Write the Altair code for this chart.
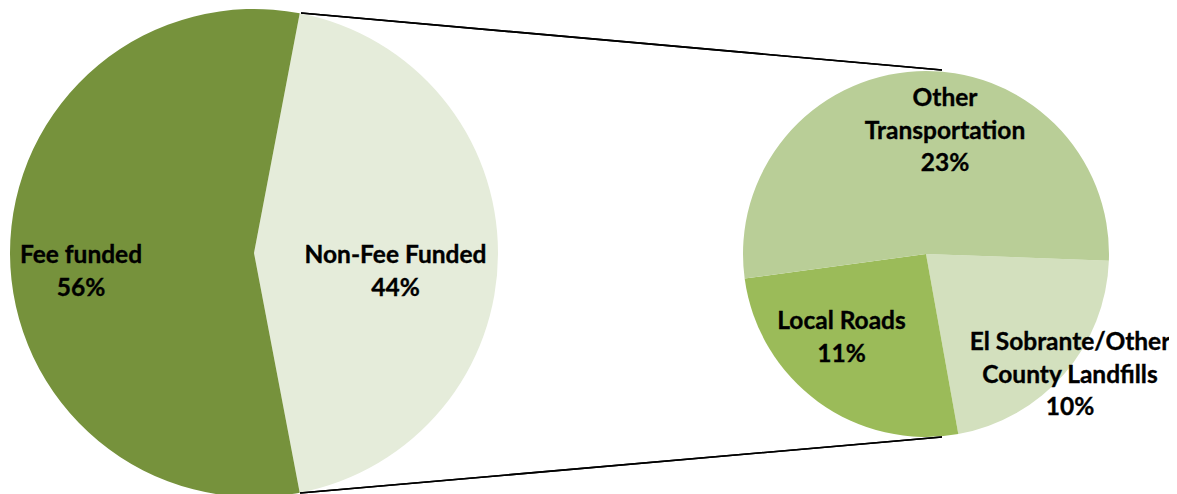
import math
import altair as alt
import pandas as pd

# ---- data ----
left_categories = ["Non-Fee Funded", "Fee funded"]
left_values = [44, 56]
left_labels = ["Non-Fee Funded\n44%", "Fee funded\n56%"]

right_categories = ["El Sobrante/Other County Landfills", "Local Roads", "Other Transportation"]
right_values = [9.5, 11.3, 23.2]
right_labels = ["El Sobrante/Other\nCounty Landfills\n10%", "Local Roads\n11%", "Other\nTransportation\n23%"]

all_categories = left_categories + right_categories
colors = ["#E5ECDA", "#76923C", "#D3E0BE", "#9BBB59", "#B9CE97"]

left_df = pd.DataFrame({"category": left_categories, "value": left_values,
                        "label": left_labels, "order": range(len(left_categories))})
right_df = pd.DataFrame({"category": right_categories, "value": right_values,
                         "label": right_labels, "order": range(len(right_categories))})

W, H = 1161, 486
FONT = "Lato"
FS = 24.5

color_scale = alt.Scale(domain=all_categories, range=colors)


def deg(a):
    return a * math.pi / 180


def pie(df, cx, cy, r, start_deg):
    return alt.Chart(df).mark_arc(stroke=None).encode(
        theta=alt.Theta("value:Q", stack=True,
                        scale=alt.Scale(range=[deg(start_deg), deg(start_deg + 360)])),
        order=alt.Order("order:Q"),
        color=alt.Color("category:N", scale=color_scale, legend=None),
        x=alt.value(cx), y=alt.value(cy), radius=alt.value(r),
    )


def label(df, cat, x, y):
    return alt.Chart(df).transform_filter(
        alt.datum.category == cat
    ).mark_text(font=FONT, fontSize=FS, fontWeight="bold", align="center",
                baseline="alphabetic", lineBreak="\n", lineHeight=32.5,
                color="#000000", stroke="#000000", strokeWidth=0.35).encode(
        text="label:N", x=alt.value(x), y=alt.value(y))


left_pie = pie(left_df, 246, 245, 244, 10.8)
right_pie = pie(right_df, 918, 246, 183, 92.1)

line_top = alt.Chart(left_df).mark_rule(color="#000000", strokeWidth=1.6).encode(
    x=alt.value(293), y=alt.value(5), x2=alt.value(934), y2=alt.value(62))
line_bot = alt.Chart(left_df).mark_rule(color="#000000", strokeWidth=1.6).encode(
    x=alt.value(292), y=alt.value(485), x2=alt.value(934), y2=alt.value(429))

labels = [
    label(left_df, "Fee funded", 73, 255),
    label(left_df, "Non-Fee Funded", 387.5, 255),
    label(right_df, "Other Transportation", 937, 98),
    label(right_df, "Local Roads", 833.5, 321),
    label(right_df, "El Sobrante/Other County Landfills", 1062, 342),
]

chart = alt.layer(left_pie, right_pie, line_top, line_bot, *labels).resolve_scale(
    theta="independent"
).properties(
    width=W, height=H, padding=0, autosize=alt.AutoSizeParams(type="none")
).configure_view(stroke=None)

chart.save("out.html", embed_options={"renderer": "svg", "actions": False})
